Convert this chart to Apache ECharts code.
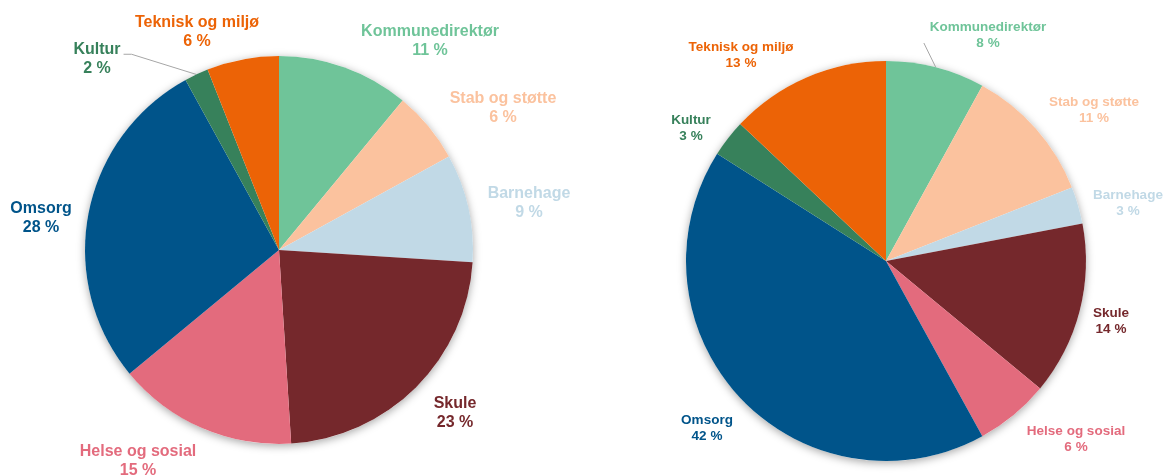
<!DOCTYPE html>
<html>
<head>
<meta charset="utf-8">
<script src="https://cdn.jsdelivr.net/npm/echarts@6/dist/echarts.min.js"></script>
<style>
  html, body { margin: 0; background: #fff; }
  #chart { width: 1165px; height: 475px; }
</style>
</head>
<body>
<div id="chart"></div>
<script>
  // data
  const categories = ['Kommunedirektør', 'Stab og støtte', 'Barnehage', 'Skule',
                      'Helse og sosial', 'Omsorg', 'Kultur', 'Teknisk og miljø'];
  const valuesLeft = [11, 6, 9, 23, 15, 28, 2, 6];
  const valuesRight = [8, 11, 3, 14, 6, 42, 3, 13];

  const colors = ['#6fc499', '#fbc29e', '#c1d9e6', '#75282c',
                  '#e36b7d', '#00548a', '#37815b', '#ec6306'];

  // label placement relative to the pie centre (px), like moved Excel labels
  const labelPosLeft = [[151, -209], [224, -142], [250, -47], [176, 163],
                        [-141, 211], [-238, -32], [-182, -191], [-82, -218]];
  const labelPosRight = [[102, -226], [208, -151], [242, -58], [225, 60],
                         [190, 178], [-179, 167], [-195, -133], [-145, -206]];

  const pies = [
    { center: [279, 250], radius: 194, values: valuesLeft, labelPos: labelPosLeft,
      font: 16, lineH: 19, leader: 6 },
    { center: [886, 261], radius: 200, values: valuesRight, labelPos: labelPosRight,
      font: 13.5, lineH: 16, leader: 0 }
  ];

  // middle angle of a slice, radians clockwise from 12 o'clock
  function midAngle(values, i) {
    const total = values.reduce((a, b) => a + b, 0);
    let acc = 0;
    for (let k = 0; k < i; k++) acc += values[k];
    return (acc + values[i] / 2) / total * 2 * Math.PI;
  }

  const myChart = echarts.init(document.getElementById('chart'));
  const series = [];

  pies.forEach(p => {
    // soft shadow behind the pie
    series.push({
      type: 'pie',
      z: 1,
      silent: true,
      center: p.center,
      radius: p.radius,
      label: { show: false },
      labelLine: { show: false },
      itemStyle: {
        color: '#fff',
        shadowBlur: 9,
        shadowColor: 'rgba(0,0,0,0.35)',
        shadowOffsetY: 2
      },
      data: [{ value: 1 }]
    });

    series.push({
      type: 'pie',
      z: 2,
      silent: true,
      center: p.center,
      radius: p.radius,
      startAngle: 90,
      avoidLabelOverlap: false,
      data: categories.map((name, i) => ({
        name: name,
        value: p.values[i],
        itemStyle: { color: colors[i] },
        label: { color: colors[i] },
        labelLine: { show: i === p.leader }
      })),
      label: {
        show: true,
        position: 'outside',
        formatter: prm => prm.name + '\n' + prm.value + ' %',
        fontFamily: 'Liberation Sans, Arial, sans-serif',
        fontWeight: 'bold',
        fontSize: p.font,
        lineHeight: p.lineH
      },
      labelLine: {
        show: false,
        lineStyle: { color: '#a6a6a6', width: 1 }
      },
      labelLayout: function (params) {
        const i = params.dataIndex;
        const x = p.center[0] + p.labelPos[i][0];
        const y = p.center[1] + p.labelPos[i][1];
        const out = { x: x, y: y, align: 'center', verticalAlign: 'middle' };
        if (i === p.leader) {
          const a = midAngle(p.values, i);
          const ex = p.center[0] + Math.sin(a) * p.radius;
          const ey = p.center[1] - Math.cos(a) * p.radius;
          const w = params.labelRect.width;
          const h = params.labelRect.height;
          if (ex > x) {
            const sx = x + w / 2 + 3;
            const sy = y - h / 2 + p.lineH * 0.75;
            out.labelLinePoints = [[sx, sy], [sx + 8, sy], [ex, ey]];
          } else {
            const sx = x - w / 2 - 6;
            const sy = y + 8;
            out.labelLinePoints = [[sx, sy], [ex, ey]];
          }
        }
        return out;
      }
    });
  });

  myChart.setOption({
    animation: false,
    series: series
  });
</script>
</body>
</html>
